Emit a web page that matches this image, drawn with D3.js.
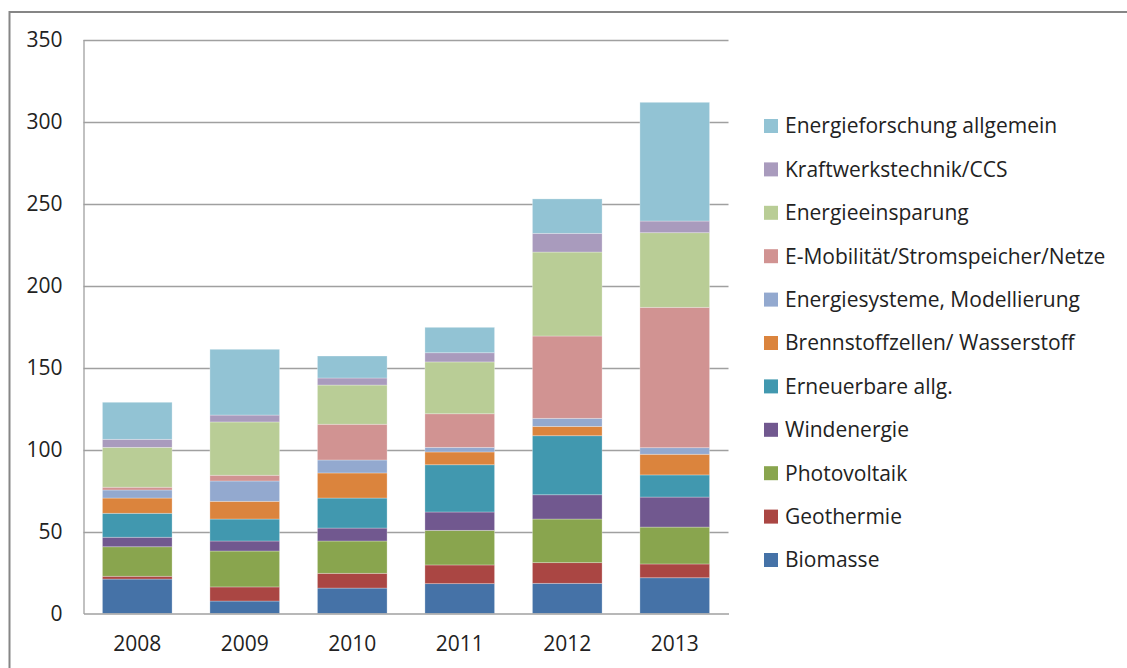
<!DOCTYPE html>
<html>
<head>
<meta charset="utf-8">
<script src="https://cdn.jsdelivr.net/npm/d3@7"></script>
<style>
  body { margin: 0; background: #fff; }
  svg { display: block; font-family: "Open Sans", Lato, sans-serif; }
</style>
</head>
<body>
<svg width="1127" height="668"></svg>
<script>
var years = ["2008", "2009", "2010", "2011", "2012", "2013"];

// series from bottom to top of the stack
var seriesNames = [
    "Biomasse", "Geothermie", "Photovoltaik", "Windenergie", "Erneuerbare allg.",
    "Brennstoffzellen/ Wasserstoff", "Energiesysteme, Modellierung",
    "E-Mobilität/Stromspeicher/Netze", "Energieeinsparung", "Kraftwerkstechnik/CCS",
    "Energieforschung allgemein"
];

var biomasse     = [21.0, 7.6, 15.5, 18.2, 18.4, 21.8];
var geothermie   = [1.7, 8.6, 9.0, 11.4, 12.6, 8.4];
var photovoltaik = [18.0, 21.9, 19.7, 21.1, 26.6, 22.5];
var windenergie  = [5.8, 6.1, 7.9, 11.2, 14.8, 18.3];
var erneuerbare  = [14.6, 13.4, 18.3, 28.8, 36.0, 13.5];
var brennstoff   = [9.3, 10.8, 15.3, 7.8, 5.7, 12.6];
var systeme      = [4.9, 12.4, 7.9, 2.8, 4.9, 4.0];
var emobilitaet  = [1.7, 3.5, 21.8, 20.5, 50.2, 85.6];
var einsparung   = [24.3, 32.5, 23.9, 31.6, 51.2, 45.5];
var kraftwerk    = [4.9, 4.2, 4.3, 5.6, 11.4, 7.1];
var allgemein    = [22.6, 40.1, 13.4, 15.5, 21.0, 72.4];

var seriesValues = [biomasse, geothermie, photovoltaik, windenergie, erneuerbare,
    brennstoff, systeme, emobilitaet, einsparung, kraftwerk, allgemein];

var colors = ["#4572A7", "#AA4643", "#89A54E", "#71588F", "#4198AF", "#DB843D",
    "#93A9CF", "#D19392", "#B9CD96", "#A99BBD", "#92C3D4"];

var yTicks = [0, 50, 100, 150, 200, 250, 300, 350];

var svg = d3.select("svg");

// outer chart frame (runs off the right and bottom edges)
svg.append("rect")
    .attr("x", 9.5).attr("y", 12)
    .attr("width", 1140).attr("height", 700)
    .attr("fill", "none")
    .attr("stroke", "#868686")
    .attr("stroke-width", 2);

var rows = years.map(function (y, i) {
    var r = { year: y };
    seriesNames.forEach(function (s, j) { r[s] = seriesValues[j][i]; });
    return r;
});

var x = d3.scaleBand().domain(years).range([83.5, 728.5]).paddingInner(0.352).paddingOuter(0.176);
var y = d3.scaleLinear().domain([0, 350]).range([613.5, 39.5]);
var color = d3.scaleOrdinal().domain(seriesNames).range(colors);

var stacked = d3.stack().keys(seriesNames)(rows);

// gridlines
svg.append("g")
    .selectAll("line")
    .data(yTicks.slice(1))
    .enter().append("line")
    .attr("x1", 83.5).attr("x2", 728.5)
    .attr("y1", function (d) { return Math.round(y(d)) + 0.5; })
    .attr("y2", function (d) { return Math.round(y(d)) + 0.5; })
    .attr("stroke", "#a0a0a0")
    .attr("stroke-width", 1.3);

// bars
svg.append("g")
    .selectAll("g")
    .data(stacked)
    .enter().append("g")
    .attr("fill", function (d) { return color(d.key); })
    .selectAll("rect")
    .data(function (d) { return d; })
    .enter().append("rect")
    .attr("x", function (d) { return x(d.data.year); })
    .attr("y", function (d) { return y(d[1]); })
    .attr("height", function (d) { return y(d[0]) - y(d[1]); })
    .attr("width", x.bandwidth())
    .attr("stroke", "rgba(255,255,255,0.35)")
    .attr("stroke-width", 0.8);

// y axis
var yAxis = svg.append("g")
    .attr("transform", "translate(83.5,0)")
    .call(d3.axisLeft(y).tickValues(yTicks).tickSize(0).tickPadding(21));
yAxis.select(".domain").attr("stroke", "#a0a0a0").attr("stroke-width", 1.3);
yAxis.selectAll("text").attr("font-size", 21).attr("fill", "#222").attr("font-family", "'Open Sans', sans-serif");

// x axis
var xAxis = svg.append("g")
    .attr("transform", "translate(0,613.5)")
    .call(d3.axisBottom(x).tickSize(0).tickPadding(23));
xAxis.select(".domain").attr("stroke", "#a0a0a0").attr("stroke-width", 1.3);
xAxis.selectAll("text").attr("font-size", 21).attr("fill", "#222").attr("font-family", "'Open Sans', sans-serif");

// legend, top entry is the top of the stack
var legendItems = seriesNames.slice().reverse();
var legend = svg.append("g")
    .selectAll("g")
    .data(legendItems)
    .enter().append("g")
    .attr("transform", function (d, i) { return "translate(764," + (126 + i * 43.4) + ")"; });

legend.append("rect")
    .attr("x", 0).attr("y", -7)
    .attr("width", 14).attr("height", 14)
    .attr("fill", function (d) { return color(d); });

legend.append("text")
    .attr("x", 21)
    .attr("dy", "0.35em")
    .attr("font-size", 21)
    .attr("fill", "#222")
    .text(function (d) { return d; });
</script>
</body>
</html>
